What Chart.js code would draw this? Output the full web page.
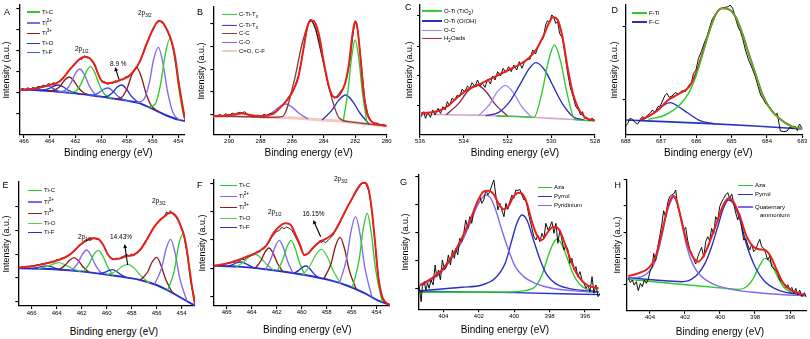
<!DOCTYPE html>
<html>
<head>
<meta charset="utf-8">
<title>XPS fits</title>
<script src="https://cdn.jsdelivr.net/npm/chart.js@4.4.1/dist/chart.umd.min.js"></script>
<style>
  html, body { margin: 0; padding: 0; background: #fff; }
  body { position: relative; width: 810px; height: 339px; overflow: hidden;
         font-family: "Liberation Sans", Arial, Helvetica, sans-serif; color: #000; }
  canvas { position: absolute; }
  .tx { position: absolute; white-space: nowrap; line-height: 1; }
  .xt { font-size: 10px; transform: translate(-50%, -50%); }
  .yt { font-size: 9px; transform: translate(-50%, -50%) rotate(-90deg); }
  .pl { font-size: 9px; }
  .lg { font-size: 6px; transform: translateY(-50%); }
  .lg b { display: inline-block; height: 1.5px; vertical-align: middle; margin-right: 2px; }
  .an { font-size: 6.5px; }
  sub, sup { font-size: 4.6px; line-height: 0; }
</style>
</head>
<body>
<script>
// ---------- tick labels ----------
const tiTicks = [454, 456, 458, 460, 462, 464, 466];
const c1sTicks = [280, 282, 284, 286, 288, 290];
const o1sTicks = [528, 530, 532, 534, 536];
const f1sTicks = [683, 684, 685, 686, 687, 688];
const n1sTicks = [396, 398, 400, 402, 404];

const aYTicks = [63, 127, 190, 253, 317, 380];
const bYTicks = [61, 129, 197, 265, 333];
const cYTicks = [89, 177, 265, 357];
const dYTicks = [107, 325];
const eYTicks = [13, 85, 153, 225, 298];
const fYTicks = [28, 113, 198, 283, 368];
const gYTicks = [63, 146, 230, 313, 398];
const hYTicks = [79, 157, 235, 314, 392];

// ---------- A: Ti 2p ----------
const aEnv = [[466.36,135],[465.5,137],[465.0,140],[464.5,145],[464.0,150],[463.5,155],[463.0,169],[462.5,193],[462.0,215],[461.75,225],[461.5,232],[461.25,235],[461.0,233],[460.75,225],[460.5,210],[460.25,185],[460.0,165],[459.5,155],[459.0,158],[458.5,165],[458.0,173],[457.5,190],[457.0,220],[456.5,270],[456.0,315],[455.75,333],[455.5,342],[455.25,339],[455.0,325],[454.75,305],[454.5,278],[454.25,235],[454.0,165],[453.75,105],[453.6,72],[453.48,48]];
const aRaw = [[466.36,133],[466.1,140],[465.9,136],[465.7,142],[465.5,137],[465.3,143],[465.1,139],[464.9,146],[464.7,142],[464.5,150],[464.3,147],[464.1,155],[463.9,151],[463.7,157],[463.5,153],[463.3,160],[463.1,166],[462.9,175],[462.7,182],[462.5,196],[462.3,203],[462.1,214],[461.9,218],[461.7,229],[461.5,227],[461.3,238],[461.1,231],[460.9,232],[460.7,222],[460.5,212],[460.3,190],[460.1,170],[459.9,158],[459.7,160],[459.5,151],[459.3,158],[459.1,155],[458.9,163],[458.7,159],[458.5,168],[458.3,165],[458.1,175],[457.9,172],[457.7,182],[457.5,188],[457.3,198],[457.1,212],[456.9,228],[456.7,246],[456.5,268],[456.3,288],[456.1,306],[455.9,320],[455.7,338],[455.5,345],[455.3,337],[455.1,330],[454.9,315],[454.7,298],[454.5,276],[454.3,240],[454.1,190],[453.9,138],[453.7,92],[453.48,45]];
const aBase = [[466.36,136],[465.2,135],[464,132],[463,128.5],[462,125],[461,120],[460,115],[459,109],[458,103],[457,95],[456,78],[455,60],[454,46],[453.48,42]];
const aTiC1 = [[456.33,84],[455.79,93],[455.37,154],[455.01,243],[454.65,290],[454.29,233],[453.93,132],[453.51,50],[452.97,40]];
const aTi2a = [[457.23,97],[456.69,106],[456.27,154],[455.91,228],[455.55,263],[455.19,214],[454.83,129],[454.41,67],[453.87,44]];
const aTi3a = [[458.92,108],[458.38,114],[457.96,142],[457.6,182],[457.24,202],[456.88,175],[456.52,126],[456.1,88],[455.56,70]];
const aTiOa = [[460.08,115],[459.54,116],[459.12,127],[458.76,143],[458.4,150],[458.04,138],[457.68,118],[457.26,102],[456.72,90]];
const aTiFa = [[461.13,120],[460.59,120],[460.17,127],[459.81,137],[459.45,141],[459.09,132],[458.73,118],[458.31,107],[457.77,101]];
const aTiC2 = [[462.5,127],[461.96,132],[461.54,155],[461.18,188],[460.82,205],[460.46,184],[460.1,147],[459.68,120],[459.14,110]];
const aTi2b = [[463.33,130],[462.79,134],[462.37,154],[462.01,184],[461.65,198],[461.29,180],[460.93,148],[460.51,124],[459.97,115]];
const aTi3b = [[464.15,132],[463.61,135],[463.19,146],[462.83,165],[462.47,174],[462.11,162],[461.75,141],[461.33,126],[460.79,119]];
const aTiOb = [[464.98,135],[464.44,135],[464.02,140],[463.66,147],[463.3,150],[462.94,144],[462.58,135],[462.16,128],[461.62,123]];
const aTiFb = [[465.98,135],[465.44,136],[465.02,141],[464.66,146],[464.3,148],[463.94,144],[463.58,136],[463.16,130],[462.62,127]];

// ---------- B: C 1s ----------
const bEnv = [[291,57],[290.26,58],[289.62,62],[289.2,65],[288.78,61],[288.14,56],[287.51,59],[287.09,67],[286.66,87],[286.24,110],[285.92,135],[285.6,175],[285.29,255],[285.08,315],[284.86,343],[284.65,343],[284.44,325],[284.23,285],[284.02,225],[283.81,175],[283.6,135],[283.38,115],[283.17,113],[282.96,123],[282.64,155],[282.39,215],[282.22,285],[282.07,330],[281.97,340],[281.84,315],[281.69,245],[281.48,135],[281.27,70],[280.95,40],[280.53,32],[280,27]];
const bRaw = [[291,58],[290.8,55],[290.6,62],[290.4,57],[290.2,64],[290,58],[289.8,66],[289.6,60],[289.4,68],[289.2,66],[289,70],[288.8,60],[288.6,57],[288.4,54],[288.2,60],[288,55],[287.8,62],[287.6,58],[287.4,65],[287.2,63],[287,72],[286.8,80],[286.6,92],[286.4,100],[286.2,116],[286,125],[285.8,150],[285.6,178],[285.4,225],[285.2,280],[285,330],[284.9,345],[284.8,347],[284.7,340],[284.5,318],[284.3,275],[284.1,232],[283.9,195],[283.7,148],[283.5,118],[283.3,110],[283.1,120],[282.9,133],[282.7,145],[282.5,178],[282.3,235],[282.1,315],[282,343],[281.9,335],[281.8,300],[281.6,210],[281.4,110],[281.2,62],[281,42],[280.8,35],[280.6,36],[280.4,30],[280.2,31],[280,27]];
const bCC = [[291,57],[287.3,53],[286.6,56],[285.88,160],[285.34,279],[284.8,342],[284.26,276],[283.72,153],[283.0,50],[282.4,40],[281.4,34],[280.1,28]];
const bCTi1 = [[282.76,41],[282.46,131],[282.23,232],[282.0,285],[281.77,229],[281.54,127],[281.24,33]];
const bCTi2 = [[284.1,45],[283.5,73],[283.05,104],[282.6,120],[282.15,100],[281.7,66],[281.1,32]];
const bCO = [[287.8,53.5],[287.24,68],[286.82,84],[286.4,93],[285.98,83],[285.56,65],[285.0,48]];
const bCOF = [[291,57],[290.4,56],[289.9,59],[289.55,63],[289.2,65],[288.85,62],[288.5,58],[288,54],[287.3,53],[285.6,50],[284.1,45],[282.6,40],[281.4,34],[280.1,28],[280,28]];

// ---------- C: O 1s ----------
const cEnv = [[535.95,65],[535.18,72],[534.72,87],[534.26,115],[533.8,137],[533.34,150],[532.88,165],[532.42,180],[531.95,195],[531.49,210],[531.03,230],[530.65,260],[530.34,300],[530.11,335],[529.92,353],[529.72,347],[529.49,295],[529.26,205],[529.03,130],[528.8,85],[528.49,55],[528.03,43]];
const cRaw = [[535.95,55],[535.83,70],[535.75,50],[535.65,67],[535.52,53],[535.42,75],[535.31,60],[535.18,80],[535.06,65],[534.95,85],[534.85,75],[534.75,100],[534.65,87],[534.54,110],[534.42,105],[534.29,120],[534.18,115],[534.08,137],[533.95,130],[533.83,147],[533.72,140],[533.62,157],[533.49,145],[533.37,165],[533.26,147],[533.15,155],[533.03,143],[532.91,167],[532.78,153],[532.69,177],[532.57,165],[532.45,190],[532.32,177],[532.2,200],[532.08,187],[531.95,205],[531.83,190],[531.71,210],[531.58,195],[531.46,220],[531.34,200],[531.22,220],[531.09,230],[530.97,227],[530.85,255],[530.72,243],[530.6,265],[530.48,280],[530.35,293],[530.26,330],[530.17,343],[530.08,337],[529.98,360],[529.89,355],[529.8,335],[529.71,340],[529.62,305],[529.49,290],[529.37,240],[529.25,185],[529.12,140],[529.0,115],[528.88,85],[528.75,75],[528.66,60],[528.57,70],[528.48,50],[528.38,53],[528.26,43],[528.14,50],[528.02,45]];
const cBase = [[536,62],[534,60],[532,57],[530,50],[528,43]];
const cTiO2 = [[532.5,57],[531.5,55],[530.79,53],[530.41,132],[530.13,222],[529.85,270],[529.57,220],[529.29,129],[528.91,46],[528,43]];
const cOH = [[533.0,58],[532.4,68],[531.9,100],[531.4,155],[531.0,200],[530.7,217],[530.3,195],[529.9,145],[529.5,95],[529.0,55],[528.5,45]];
const cOC = [[533.3,59],[532.82,92],[532.46,130],[532.1,149],[531.74,128],[531.38,88],[530.9,53]];
const cH2O = [[534.8,61],[534.24,94],[533.82,131],[533.4,150],[532.98,130],[532.56,92],[532.0,57]];

// ---------- D: F 1s ----------
const dEnv = [[687.6,46],[687.36,56],[687.08,75],[686.8,105],[686.5,123],[686.22,143],[686.03,180],[685.84,240],[685.65,306],[685.46,360],[685.27,380],[685.08,377],[684.89,355],[684.7,305],[684.52,245],[684.33,185],[684.14,125],[683.95,85],[683.66,50],[683.28,25],[683,20]];
const dRaw = [[688,27],[687.94,35],[687.88,50],[687.81,47],[687.73,37],[687.66,33],[687.59,45],[687.53,55],[687.45,50],[687.38,60],[687.31,65],[687.24,75],[687.17,67],[687.09,85],[687.02,87],[686.95,105],[686.88,120],[686.83,125],[686.77,113],[686.69,117],[686.6,127],[686.5,123],[686.41,133],[686.31,130],[686.22,147],[686.14,157],[686.08,185],[686.01,195],[685.94,230],[685.86,250],[685.78,275],[685.7,295],[685.63,320],[685.56,345],[685.46,363],[685.37,375],[685.27,380],[685.18,383],[685.1,385],[685.04,390],[684.97,380],[684.89,350],[684.82,325],[684.75,310],[684.69,290],[684.61,255],[684.52,225],[684.42,200],[684.33,175],[684.25,145],[684.18,120],[684.12,110],[684.04,95],[683.95,85],[683.85,75],[683.78,60],[683.71,65],[683.66,35],[683.62,12],[683.52,10],[683.43,12],[683.36,23],[683.28,20],[683.21,27],[683.14,13],[683.08,33],[683,20]];
const dBase = [[688,45],[685.75,35],[684.33,27],[683,18]];
const dFTi = [[687.36,47],[686.88,60],[686.5,87],[686.22,125],[686.03,170],[685.84,235],[685.65,305],[685.46,360],[685.27,380],[685.08,377],[684.89,355],[684.7,305],[684.52,245],[684.33,185],[684.14,125],[683.95,85],[683.66,50],[683.28,25],[683.0,20]];
const dFC = [[687.58,43],[687.24,63],[686.99,85],[686.74,97],[686.49,84],[686.24,66],[685.9,43],[685.5,34]];

// ---------- E: Ti 2p ----------
const eEnv = [[467.07,115],[465.87,120],[464.8,128],[463.87,138],[463.2,148],[462.67,163],[462.13,183],[461.6,198],[461.07,203],[460.67,201],[460.27,183],[459.87,153],[459.47,140],[458.93,143],[458.4,150],[457.87,153],[457.33,168],[456.8,198],[456.27,233],[455.73,258],[455.33,270],[455.07,278],[454.8,280],[454.53,273],[454.27,258],[454.0,232],[453.81,212],[453.6,172],[453.41,122],[453.2,65],[452.93,3]];
const eRaw = [[467.07,114],[466.8,118],[466.6,116],[466.4,119],[466.2,117],[466,121],[465.8,119],[465.6,124],[465.4,122],[465.2,127],[465,124],[464.8,131],[464.6,128],[464.4,134],[464.2,132],[464,139],[463.8,137],[463.6,144],[463.4,143],[463.2,150],[463,154],[462.8,160],[462.6,168],[462.4,172],[462.2,182],[462,186],[461.8,195],[461.6,194],[461.4,202],[461.2,200],[461,205],[460.8,199],[460.6,200],[460.4,188],[460.2,178],[460,160],[459.8,150],[459.6,143],[459.4,140],[459.2,144],[459,141],[458.8,147],[458.6,150],[458.4,155],[458.2,150],[458,156],[457.8,152],[457.6,160],[457.4,166],[457.2,175],[457,188],[456.8,200],[456.6,212],[456.4,226],[456.2,238],[456,246],[455.8,255],[455.6,262],[455.4,268],[455.2,282],[455,276],[454.9,286],[454.8,279],[454.6,272],[454.4,265],[454.2,252],[454,236],[453.8,208],[453.6,168],[453.4,118],[453.2,62],[452.93,2]];
const eBase = [[467.07,113],[464.53,111],[461.87,103],[459.2,90],[457.33,78],[456,63],[454.67,38],[453.6,15],[452.93,1]];
const eTiC1 = [[455.12,47],[454.58,107],[454.25,180],[453.92,215],[453.59,166],[453.26,70],[452.72,-3]];
const eTi2a = [[456.18,65],[455.6,114],[455.24,172],[454.88,200],[454.52,158],[454.16,85],[453.58,15]];
const eTi3a = [[457.3,78],[456.72,102],[456.36,132],[456,146],[455.64,121],[455.28,80],[454.7,38]];
const eTiOa = [[459.97,94],[459.23,105],[458.75,119],[458.27,125],[457.79,113],[457.31,93],[456.57,69]];
const eTiFa = [[460.62,97],[460.18,101],[459.85,106],[459.52,109],[459.19,103],[458.86,94],[458.42,85]];
const eTiC2 = [[461.87,103],[461.39,127],[461.03,154],[460.67,167],[460.31,150],[459.95,120],[459.47,91]];
const eTi2b = [[462.8,106],[462.32,128],[461.96,154],[461.6,168],[461.24,151],[460.88,122],[460.4,96]];
const eTi3b = [[463.81,109],[463.33,122],[462.97,137],[462.61,145],[462.25,135],[461.89,118],[461.41,101]];
const eTiOb = [[465.49,112],[464.75,119],[464.27,126],[463.79,130],[463.31,123],[462.83,114],[462.09,104]];
const eTiFb = [[466,112],[465.52,115],[465.16,118.5],[464.8,120],[464.44,118],[464.08,113],[463.6,108]];

// ---------- F: Ti 2p ----------
const fEnv = [[467.07,121],[466.13,126],[465.07,138],[464.27,150],[463.47,163],[462.8,183],[462.27,218],[461.73,240],[461.33,248],[460.93,245],[460.53,218],[460.13,183],[459.79,153],[459.47,158],[459.07,176],[458.53,193],[458,203],[457.47,218],[457.07,243],[456.53,283],[456,320],[455.6,348],[455.2,368],[454.93,370],[454.67,353],[454.4,293],[454.13,193],[453.87,88],[453.6,33],[453.33,13],[452.93,3]];
const fRaw = [[467.07,120],[466.8,122],[466.6,121],[466.4,125],[466.2,123],[466,128],[465.8,127],[465.6,131],[465.4,130],[465.2,136],[465,135],[464.8,140],[464.6,139],[464.4,146],[464.2,148],[464,152],[463.8,154],[463.6,160],[463.4,161],[463.2,170],[463,172],[462.8,182],[462.6,192],[462.4,206],[462.2,215],[462,224],[461.8,226],[461.6,236],[461.4,232],[461.2,237],[461,233],[460.8,228],[460.6,215],[460.4,200],[460.2,185],[460,165],[459.8,152],[459.6,155],[459.4,160],[459.2,168],[459,175],[458.8,184],[458.6,192],[458.5,198],[458.4,190],[458.3,196],[458.1,190],[457.9,196],[457.7,204],[457.5,212],[457.3,225],[457.1,238],[456.9,252],[456.7,268],[456.5,285],[456.3,300],[456.1,312],[455.9,325],[455.7,338],[455.5,350],[455.3,362],[455.2,366],[455.1,372],[455,368],[454.9,370],[454.8,360],[454.6,345],[454.4,290],[454.2,218],[454,135],[453.8,70],[453.6,30],[453.4,12],[452.93,3]];
const fBase = [[467.07,121],[465.07,118],[462.4,108],[459.73,93],[457.6,76],[456.27,60],[454.93,38],[453.87,16],[452.93,3]];
const fTiC1 = [[455.95,55],[455.41,136],[455.08,230],[454.75,278],[454.42,217],[454.09,111],[453.55,12]];
const fTi2a = [[456.98,68],[456.4,142],[456.04,226],[455.68,268],[455.32,214],[454.96,119],[454.38,27]];
const fTi3a = [[458.23,81],[457.65,127],[457.29,180],[456.93,206],[456.57,172],[456.21,110],[455.63,50]];
const fTiOa = [[459.9,94],[459.3,123],[458.85,155],[458.4,170],[457.95,148],[457.5,108],[456.9,68]];
const fTiFa = [[460.65,98],[460.25,106],[459.95,116],[459.65,120],[459.35,112],[459.05,98],[458.65,84]];
const fTiC2 = [[461.95,105],[461.51,139],[461.18,177],[460.85,197],[460.52,173],[460.19,132],[459.75,93]];
const fTi2b = [[462.89,110],[462.45,142],[462.12,178],[461.79,197],[461.46,175],[461.13,135],[460.69,98]];
const fTi3b = [[463.71,113],[463.27,135],[462.94,161],[462.61,174],[462.28,158],[461.95,129],[461.51,103]];
const fTiOb = [[465.23,118],[464.63,132],[464.18,149],[463.73,156],[463.28,145],[462.83,126],[462.23,107]];
const fTiFb = [[465.95,119],[465.51,124],[465.18,130],[464.85,132],[464.52,128],[464.19,121],[463.75,113]];

// ---------- G: N 1s ----------
const gEnv = [[405.32,73],[404.66,93],[404.09,118],[403.53,158],[402.96,213],[402.49,268],[402.11,318],[401.74,353],[401.45,356],[401.17,346],[400.89,318],[400.6,300],[400.32,310],[400.04,338],[399.75,350],[399.57,348],[399.28,318],[399.0,263],[398.72,223],[398.43,208],[398.15,228],[397.87,246],[397.64,248],[397.4,233],[397.11,193],[396.74,138],[396.36,98],[395.89,73],[395.23,63]];
const gRaw = [[405.38,73],[405.26,23],[405.19,68],[405.08,83],[405,58],[404.89,78],[404.81,63],[404.7,88],[404.58,73],[404.47,133],[404.38,98],[404.28,118],[404.17,88],[404.06,148],[403.94,118],[403.83,128],[403.72,163],[403.6,133],[403.49,178],[403.38,153],[403.3,183],[403.19,163],[403.08,213],[402.96,203],[402.85,228],[402.74,268],[402.62,243],[402.51,278],[402.4,258],[402.28,298],[402.17,313],[402.06,328],[401.94,338],[401.83,318],[401.72,328],[401.6,358],[401.49,343],[401.38,353],[401.26,373],[401.15,388],[401.04,343],[400.92,298],[400.81,318],[400.7,298],[400.58,278],[400.47,318],[400.36,300],[400.25,323],[400.13,343],[400.02,333],[399.91,358],[399.79,356],[399.68,360],[399.57,343],[399.45,328],[399.34,330],[399.23,298],[399.11,268],[399,243],[398.89,218],[398.77,208],[398.66,223],[398.55,203],[398.43,228],[398.32,213],[398.21,258],[398.09,238],[397.98,248],[397.87,263],[397.75,228],[397.64,258],[397.53,198],[397.42,238],[397.3,208],[397.19,178],[397.08,193],[396.96,178],[396.85,138],[396.74,153],[396.62,118],[396.51,128],[396.4,98],[396.28,113],[396.17,88],[396.06,78],[395.94,63],[395.83,73],[395.72,53],[395.6,98],[395.49,48],[395.38,73],[395.26,38],[395.15,48]];
const gBase = [[405.42,54],[400,50],[395.15,44]];
const gPyd = [[405.32,70],[404.66,88],[404.09,113],[403.53,153],[402.96,203],[402.49,258],[402.11,308],[401.83,333],[401.6,343],[401.36,336],[401.08,303],[400.7,238],[400.32,178],[399.94,128],[399.47,98],[398.81,78],[397.87,63],[396.74,56],[395.23,50]];
const gPyr = [[405.42,55],[402.96,66],[401.83,73],[401.08,93],[400.51,138],[400.13,208],[399.85,258],[399.57,283],[399.28,268],[398.91,208],[398.53,148],[398.15,103],[397.68,78],[396.92,63],[395.98,56],[395.23,52]];
const gAza = [[405.32,51],[400.51,52],[399.38,56],[398.81,68],[398.43,103],[398.06,163],[397.77,200],[397.58,210],[397.34,198],[397.02,156],[396.64,103],[396.26,73],[395.79,58],[395.23,51]];

// ---------- H: N 1s ----------
const hEnv = [[405.24,104],[404.67,112],[404.1,127],[403.71,157],[403.33,232],[403.05,297],[402.82,334],[402.67,344],[402.48,330],[402.23,277],[401.9,207],[401.58,164],[401.24,147],[400.86,172],[400.48,222],[400.1,277],[399.81,317],[399.52,337],[399.24,327],[398.86,282],[398.48,222],[398.1,192],[397.77,184],[397.43,182],[397.1,162],[396.76,122],[396.38,82],[395.9,60],[395.14,47]];
const hRaw = [[405.24,97],[405.12,84],[405.01,92],[404.9,77],[404.78,87],[404.67,60],[404.55,82],[404.44,72],[404.32,92],[404.21,82],[404.1,94],[403.98,122],[403.87,132],[403.79,172],[403.68,150],[403.56,190],[403.45,222],[403.33,257],[403.22,300],[403.1,280],[402.99,324],[402.88,342],[402.76,347],[402.65,350],[402.53,362],[402.42,312],[402.3,294],[402.19,272],[402.08,242],[401.96,250],[401.85,212],[401.73,184],[401.62,172],[401.5,154],[401.39,140],[401.28,160],[401.16,177],[401.05,190],[400.93,160],[400.82,207],[400.7,222],[400.59,210],[400.48,247],[400.36,230],[400.25,282],[400.13,270],[400.02,312],[399.9,327],[399.79,337],[399.68,347],[399.56,354],[399.45,337],[399.33,350],[399.22,322],[399.1,292],[398.99,272],[398.88,292],[398.76,247],[398.65,212],[398.53,217],[398.42,197],[398.3,182],[398.19,200],[398.08,177],[397.96,184],[397.85,200],[397.73,214],[397.62,192],[397.5,187],[397.39,172],[397.28,152],[397.16,164],[397.05,132],[396.93,126],[396.82,122],[396.7,110],[396.59,92],[396.48,86],[396.36,82],[396.25,70],[396.13,78],[396.02,62],[395.9,70],[395.79,52],[395.67,67],[395.56,47],[395.45,62],[395.33,42],[395.18,54],[395.07,40]];
const hQua = [[405.24,97],[404.29,107],[403.71,147],[403.33,222],[403.05,292],[402.82,327],[402.67,340],[402.48,327],[402.23,272],[401.9,192],[401.58,142],[401.14,107],[400.48,82],[399.33,64],[397.81,54],[396.29,48],[395.14,45]];
const hPyr = [[405.24,99],[403.71,92],[402.19,87],[401.43,102],[400.86,142],[400.48,192],[400.1,257],[399.81,307],[399.52,332],[399.24,322],[398.86,272],[398.48,197],[398.0,132],[397.43,87],[396.67,62],[395.9,52],[395.14,47]];
const hAza = [[405.24,94],[401.81,77],[399.71,67],[398.95,64],[398.48,72],[398.1,97],[397.77,132],[397.43,157],[397.1,144],[396.76,107],[396.38,72],[395.9,54],[395.14,45]];

// ---------- styles ----------
const RED = '#e8201c', BLACK = '#111111', GRN = '#2dcb2d', VIO = '#8467ef', DRED = '#8a1c1c',
      BLU = '#2a2fc6', BLU2 = '#3d5cf0', LGRN = '#55d04a', BASE = '#2432cc', BROWN = '#8c3d3d',
      PINK = '#f5c8bd', MAROON = '#8d2459', VIO2 = '#a088f0', LILAC = '#d7a3cf';
const ENV_W = 2, COMP_W = 1.35, BASE_W = 1.9;

Chart.defaults.font.family = '"Liberation Sans", Arial, Helvetica, sans-serif';
Chart.defaults.color = '#000';

function line(data, color, width, order, smooth) {
  return {
    data: data, borderColor: color, borderWidth: width, order: order,
    pointRadius: 0, fill: false, tension: 0,
    cubicInterpolationMode: smooth === false ? 'default' : 'monotone'
  };
}

const arrowPlugin = {
  id: 'arrow',
  afterDatasetsDraw(chart, args, o) {
    if (!o || !o.from) return;
    const sx = chart.scales.x, sy = chart.scales.y, ctx = chart.ctx;
    const x1 = sx.getPixelForValue(o.from[0]), y1 = sy.getPixelForValue(o.from[1]);
    const x2 = sx.getPixelForValue(o.to[0]), y2 = sy.getPixelForValue(o.to[1]);
    const a = Math.atan2(y2 - y1, x2 - x1), L = 4.5;
    ctx.save();
    ctx.strokeStyle = '#000'; ctx.fillStyle = '#000'; ctx.lineWidth = 1.1;
    ctx.beginPath(); ctx.moveTo(x1, y1);
    ctx.lineTo(x2 - Math.cos(a) * 3, y2 - Math.sin(a) * 3); ctx.stroke();
    ctx.beginPath(); ctx.moveTo(x2, y2);
    ctx.lineTo(x2 - L * Math.cos(a - 0.45), y2 - L * Math.sin(a - 0.45));
    ctx.lineTo(x2 - L * Math.cos(a + 0.45), y2 - L * Math.sin(a + 0.45));
    ctx.closePath(); ctx.fill();
    ctx.restore();
  }
};

// box: canvas left, top, width, height; yw: y-axis width; pt/pr: top/right padding; xh: x-axis height
const panels = [
  { box: [0, 0, 195, 148], yw: 19.3, pt: 5, pr: 10, xh: 13, tp: 0,
    x: [453.48, 466.36], xt: tiTicks, y: 390, yt: aYTicks, arrow: [[458.61, 167], [458.92, 204]],
    series: [line(aEnv, RED, ENV_W, 0), line(aRaw, BLACK, 0.9, 1, false),
      line(aTiC1, GRN, COMP_W, 2), line(aTi2a, VIO, COMP_W, 2), line(aTi3a, DRED, COMP_W, 2), line(aTiOa, BLU, COMP_W, 2), line(aTiFa, BLU2, COMP_W, 2),
      line(aTiC2, GRN, COMP_W, 2), line(aTi2b, VIO, COMP_W, 2), line(aTi3b, DRED, COMP_W, 2), line(aTiOb, BLU, COMP_W, 2), line(aTiFb, BLU2, COMP_W, 2),
      line(aBase, BASE, BASE_W, 3)] },
  { box: [195, 0, 200, 148], yw: 18.3, pt: 6.7, pr: 8.3, xh: 13, tp: 0,
    x: [280, 291], xt: c1sTicks, y: 385, yt: bYTicks,
    series: [line(bEnv, RED, ENV_W, 0), line(bRaw, BLACK, 0.9, 1, false),
      line(bCC, BROWN, COMP_W, 2), line(bCTi1, GRN, COMP_W, 2), line(bCTi2, BLU, COMP_W, 2), line(bCO, VIO, COMP_W, 2),
      line(bCOF, PINK, 3, 3)] },
  { box: [403, 0, 202, 148], yw: 17, pt: 5, pr: 10, xh: 13, tp: 0,
    x: [528, 536], xt: o1sTicks, y: 390, yt: cYTicks,
    series: [line(cEnv, RED, ENV_W, 0), line(cRaw, BLACK, 1, 1, false),
      line(cTiO2, GRN, COMP_W, 2), line(cOH, BLU, COMP_W, 2), line(cOC, VIO2, COMP_W, 2), line(cH2O, MAROON, COMP_W, 2),
      line(cBase, LILAC, 1.6, 3)] },
  { box: [608, 0, 202, 148], yw: 17.7, pt: 5, pr: 7.7, xh: 13, tp: 0,
    x: [683, 688], xt: f1sTicks, y: 390, yt: dYTicks,
    series: [line(dFTi, GRN, 1.4, 0), line(dEnv, RED, ENV_W, 1), line(dRaw, BLACK, 1, 2, false),
      line(dFC, BLU, 1.4, 3), line(dBase, BASE, 1.6, 4)] },
  { box: [0, 172, 200, 152], yw: 18.3, pt: 9.7, pr: 5, xh: 18, tp: 0.7,
    x: [452.93, 467.07], xt: tiTicks, y: 373, yt: eYTicks, arrow: [[458.32, 123], [458.56, 186]],
    series: [line(eEnv, RED, ENV_W, 0), line(eRaw, BLACK, 0.9, 1, false),
      line(eTiC1, GRN, COMP_W, 2), line(eTi2a, VIO, COMP_W, 2), line(eTi3a, DRED, COMP_W, 2), line(eTiOa, LGRN, COMP_W, 2), line(eTiFa, BLU, COMP_W, 2),
      line(eTiC2, GRN, COMP_W, 2), line(eTi2b, VIO, COMP_W, 2), line(eTi3b, DRED, COMP_W, 2), line(eTiOb, LGRN, COMP_W, 2), line(eTiFb, BLU, COMP_W, 2),
      line(eBase, BASE, BASE_W, 3)] },
  { box: [196, 172, 207, 152], yw: 17.3, pt: 8, pr: 13, xh: 18, tp: 0,
    x: [452.93, 467.07], xt: tiTicks, y: 378, yt: fYTicks, arrow: [[458.48, 208], [459.07, 258]],
    series: [line(fEnv, RED, ENV_W, 0), line(fRaw, BLACK, 0.9, 1, false),
      line(fTiC1, GRN, COMP_W, 2), line(fTi2a, VIO, COMP_W, 2), line(fTi3a, DRED, COMP_W, 2), line(fTiOa, LGRN, COMP_W, 2), line(fTiFa, BLU, COMP_W, 2),
      line(fTiC2, GRN, COMP_W, 2), line(fTi2b, VIO, COMP_W, 2), line(fTi3b, DRED, COMP_W, 2), line(fTiOb, LGRN, COMP_W, 2), line(fTiFb, BLU, COMP_W, 2),
      line(fBase, BASE, BASE_W, 3)] },
  { box: [400, 172, 205, 152], yw: 18.3, pt: 3, pr: 5, xh: 14.7, tp: 0.8,
    x: [395.15, 405.42], xt: n1sTicks, y: 403, yt: gYTicks,
    series: [line(gEnv, RED, ENV_W, 0), line(gRaw, BLACK, 1, 1, false),
      line(gPyd, VIO, 1.4, 2), line(gPyr, BLU, 1.4, 2), line(gAza, GRN, 1.4, 2),
      line(gBase, BASE, 1.4, 3)] },
  { box: [611, 172, 199, 152], yw: 15.7, pt: 8, pr: 3.3, xh: 13.3, tp: 0.4,
    x: [395.05, 405.33], xt: n1sTicks, y: 392, yt: hYTicks,
    series: [line(hEnv, RED, ENV_W, 0), line(hRaw, BLACK, 1, 1, false),
      line(hQua, VIO, 1.4, 2), line(hPyr, BLU, 1.4, 2), line(hAza, GRN, 1.4, 2)] }
];

function makeChart(p) {
  const cv = document.createElement('canvas');
  cv.width = p.box[2]; cv.height = p.box[3];
  cv.style.cssText = 'left:' + p.box[0] + 'px;top:' + p.box[1] + 'px;width:' + p.box[2] + 'px;height:' + p.box[3] + 'px';
  document.body.appendChild(cv);
  const grid = { display: true, drawOnChartArea: false, drawTicks: true, tickLength: 3, color: '#000', lineWidth: 1.1 };
  const border = { display: true, color: '#000', width: 1.3 };
  new Chart(cv, {
    type: 'line',
    data: { datasets: p.series },
    options: {
      responsive: false, animation: false, events: [],
      layout: { autoPadding: false, padding: { left: 0, top: p.pt, right: p.pr, bottom: 0 } },
      plugins: {
        legend: { display: false }, tooltip: { enabled: false },
        arrow: p.arrow ? { from: p.arrow[0], to: p.arrow[1] } : false
      },
      scales: {
        x: {
          type: 'linear', reverse: true, min: p.x[0], max: p.x[1],
          afterBuildTicks: s => { s.ticks = p.xt.map(v => ({ value: v })); },
          afterFit: s => { s.height = p.xh; s.paddingLeft = 0; s.paddingRight = 0; },
          ticks: { autoSkip: false, maxRotation: 0, padding: p.tp, font: { size: 6 }, color: '#000',
                   callback: v => String(v) },
          grid: grid, border: border
        },
        y: {
          type: 'linear', min: 0, max: p.y,
          afterBuildTicks: s => { s.ticks = p.yt.map(v => ({ value: v })); },
          afterFit: s => { s.width = p.yw; s.paddingTop = 0; s.paddingBottom = 0; },
          ticks: { display: false },
          grid: grid, border: border
        }
      }
    },
    plugins: [arrowPlugin]
  });
}

panels.forEach(makeChart);

// ---------- text overlays ----------
function txt(html, x, y, cls) {
  const d = document.createElement('div');
  d.className = 'tx ' + cls;
  d.style.left = x + 'px'; d.style.top = y + 'px';
  d.innerHTML = html;
  document.body.appendChild(d);
}

[[5.5, 70], [200.5, 71], [408.5, 70], [613.5, 70], [5.5, 244], [201.5, 243], [405, 242], [616.5, 245]]
  .forEach(c => txt('Intensity (a.u.)', c[0], c[1], 'yt'));
[[108.3, 153.3], [308.7, 153.3], [515, 153.3], [708.3, 153.3], [114, 331.5], [307.3, 330], [505, 330], [720, 331.7]]
  .forEach(c => txt('Binding energy (eV)', c[0], c[1], 'xt'));

const notes = [
  ['A', 4, 7.5, 'pl'], ['B', 197, 7.5, 'pl'], ['C', 405, 2.5, 'pl'], ['D', 611.5, 6, 'pl'],
  ['E', 2.5, 181, 'pl'], ['F', 197, 181, 'pl'], ['G', 400, 178, 'pl'], ['H', 614.5, 181, 'pl'],
  ['2p<sub>3/2</sub>', 138, 10, 'an'], ['2p<sub>1/2</sub>', 75, 45.5, 'an'], ['8.9 %', 110, 60.5, 'an'],
  ['2p<sub>1/2</sub>', 78, 234, 'an'], ['14.43%', 110, 234, 'an'], ['2p<sub>3/2</sub>', 152, 198, 'an'],
  ['2p<sub>1/2</sub>', 268, 209, 'an'], ['16.15%', 302.5, 210.5, 'an'], ['2p<sub>3/2</sub>', 334, 176, 'an'],
  ['ammonium', 760, 214.7, 'lg']
];
notes.forEach(n => txt(n[0], n[1], n[2], n[3]));

const legends = [
  { x: 27, w: 13, rows: [['Ti-C', GRN, 11.5], ['Ti<sup>2+</sup>', VIO, 22.5], ['Ti<sup>3+</sup>', DRED, 33.3], ['Ti-O', BLU, 43.3], ['Ti-F', BLU2, 52]] },
  { x: 222, w: 15, rows: [['C-Ti-T<sub><i>x</i></sub>', GRN, 14], ['C-Ti-T<sub><i>x</i></sub>', BLU, 25], ['C-C', BROWN, 33.3], ['C-O', VIO, 42.3], ['C=O, C-F', PINK, 50.7]] },
  { x: 422, w: 20, rows: [['O-Ti (TiO<sub>2</sub>)', GRN, 10.7], ['O-Ti (O/OH)', BLU, 20.7], ['O-C', VIO2, 30], ['H<sub>2</sub>Oads', MAROON, 38.3]] },
  { x: 632, w: 15, rows: [['F-Ti', GRN, 12.7], ['F-C', BLU, 21.7]] },
  { x: 28, w: 14, rows: [['Ti-C', GRN, 190], ['Ti<sup>2+</sup>', VIO, 201.7], ['Ti<sup>3+</sup>', DRED, 213.3], ['Ti-O', LGRN, 223.3], ['Ti-F', BLU, 232]] },
  { x: 220, w: 17, rows: [['Ti-C', GRN, 185], ['Ti<sup>2+</sup>', VIO, 196], ['Ti<sup>3+</sup>', DRED, 207], ['Ti-O', LGRN, 218], ['Ti-F', BLU, 227]] },
  { x: 538, w: 14, rows: [['Aza', GRN, 187.3], ['Pyrrol', BLU, 196], ['Pyridinium', VIO, 205]] },
  { x: 738, w: 15, rows: [['Aza', GRN, 185], ['Pyrrol', BLU, 194], ['Quaternary', VIO, 206.7]] }
];
legends.forEach(l => l.rows.forEach(r =>
  txt('<b style="width:' + l.w + 'px;background:' + r[1] + '"></b>' + r[0], l.x, r[2], 'lg')));
</script>
</body>
</html>
